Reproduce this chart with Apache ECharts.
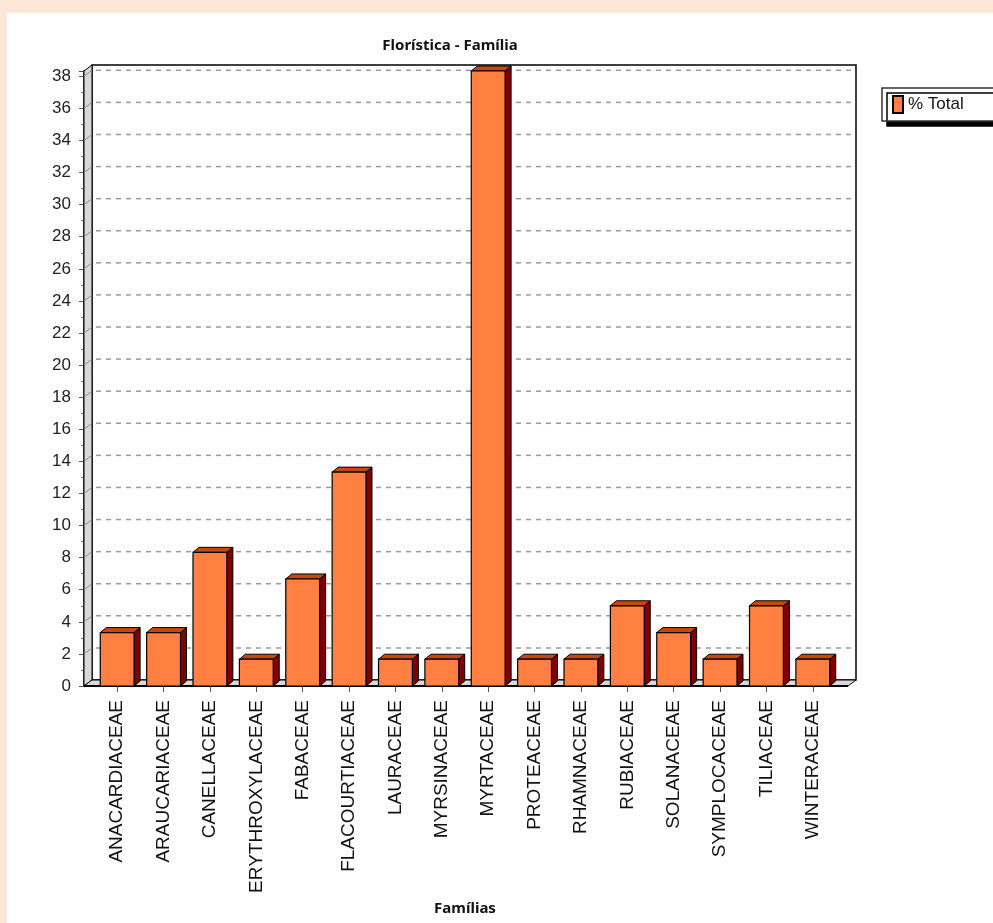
<!DOCTYPE html>
<html>
<head>
<meta charset="utf-8">
<script src="https://cdn.jsdelivr.net/npm/echarts@6/dist/echarts.min.js"></script>
<style>
  html, body { margin: 0; padding: 0; background: #fde7d8; }
  #page { position: absolute; left: 7px; top: 13px; right: 0; bottom: 0; background: #fff; }
  #chart { position: absolute; left: -7px; top: -13px; width: 993px; height: 923px; }
</style>
</head>
<body>
<div id="page"><div id="chart"></div></div>
<script>
const families = ['ANACARDIACEAE', 'ARAUCARIACEAE', 'CANELLACEAE', 'ERYTHROXYLACEAE', 'FABACEAE',
  'FLACOURTIACEAE', 'LAURACEAE', 'MYRSINACEAE', 'MYRTACEAE', 'PROTEACEAE', 'RHAMNACEAE',
  'RUBIACEAE', 'SOLANACEAE', 'SYMPLOCACEAE', 'TILIACEAE', 'WINTERACEAE'];
const pctTotal = [3.33, 3.33, 8.33, 1.67, 6.67, 13.33, 1.67, 1.67, 38.33, 1.67, 1.67, 5, 3.33, 1.67, 5, 1.67];
const yTicks = [0, 2, 4, 6, 8, 10, 12, 14, 16, 18, 20, 22, 24, 26, 28, 30, 32, 34, 36, 38];

const chart = echarts.init(document.getElementById('chart'), null, { renderer: 'canvas' });

// walls depth and bar depth (3d look)
const WX = 8, WY = 6, BX = 6, BY = 5;

function renderFrame(params, api) {
  const cs = params.coordSys;
  const x0 = cs.x - 10, x1 = cs.x + cs.width + 12;
  const yb = cs.y + cs.height, yt = cs.y;
  const kids = [];
  // back wall
  kids.push({ type: 'rect', shape: { x: x0 + WX, y: yt - WY, width: x1 - x0, height: yb - yt },
    style: { fill: '#fff', stroke: '#000', lineWidth: 1.5 } });
  // left wall
  kids.push({ type: 'polygon', shape: { points: [[x0, yb], [x0 + WX, yb - WY], [x0 + WX, yt - WY], [x0, yt]] },
    style: { fill: '#d8d8d8', stroke: '#000', lineWidth: 1 } });
  // floor
  kids.push({ type: 'polygon', shape: { points: [[x0, yb], [x0 + WX, yb - WY], [x1 + WX, yb - WY], [x1, yb]] },
    style: { fill: '#d8d8d8', stroke: '#000', lineWidth: 1 } });
  yTicks.forEach(function (v) {
    if (v === 0) return;
    const y = api.coord([0, v])[1];
    kids.push({ type: 'line', shape: { x1: x0, y1: y, x2: x0 + WX, y2: y - WY },
      style: { stroke: '#8a8a8a', lineWidth: 1 } });
    kids.push({ type: 'line', shape: { x1: x0 + WX + 4, y1: y - WY, x2: x1 + WX - 2, y2: y - WY },
      style: { stroke: '#9a9a9a', lineWidth: 1.5, lineDash: [5, 5] } });
  });
  // front base line
  kids.push({ type: 'line', shape: { x1: x0, y1: yb, x2: x1, y2: yb }, style: { stroke: '#000', lineWidth: 2 } });
  return { type: 'group', children: kids };
}

function renderBar(params, api) {
  const c = api.coord([api.value(0), api.value(1)]);
  const base = api.coord([api.value(0), 0]);
  const w = api.size([1, 0])[0] * 0.73;
  const xl = c[0] - w / 2, xr = c[0] + w / 2, yt = c[1], yb = base[1];
  return {
    type: 'group',
    children: [
      { type: 'polygon', shape: { points: [[xr, yt], [xr + BX, yt - BY], [xr + BX, yb - BY], [xr, yb]] },
        style: { fill: '#800000', stroke: '#000', lineWidth: 1 } },
      { type: 'polygon', shape: { points: [[xl, yt], [xl + BX, yt - BY], [xr + BX, yt - BY], [xr, yt]] },
        style: { fill: '#c8480a', stroke: '#000', lineWidth: 1 } },
      { type: 'rect', shape: { x: xl, y: yt, width: w, height: yb - yt },
        style: { fill: '#ff8040', stroke: '#000', lineWidth: 1.2 } }
    ]
  };
}

option = {
  animation: false,
  backgroundColor: 'transparent',
  title: {
    text: 'Florística - Família',
    left: 445, top: 33, textAlign: 'center',
    textStyle: { fontFamily: 'Noto Sans', fontWeight: 'bold', fontSize: 15, color: '#111' }
  },
  legend: {
    data: ['% Total'],
    left: 882, top: 88,
    orient: 'vertical',
    icon: 'rect',
    itemWidth: 10, itemHeight: 17, itemGap: 4,
    padding: [7, 40, 7, 10],
    backgroundColor: '#fff',
    borderColor: '#333', borderWidth: 1.5,
    shadowColor: '#000', shadowBlur: 0, shadowOffsetX: 5, shadowOffsetY: 5,
    textStyle: { fontFamily: 'Liberation Sans', fontSize: 17, color: '#111' }
  },
  grid: { left: 94, right: 157, top: 71, bottom: 237, containLabel: false },
  xAxis: {
    type: 'category',
    data: families,
    name: 'Famílias',
    nameLocation: 'middle',
    nameGap: 215,
    nameTextStyle: { fontFamily: 'Noto Sans', fontWeight: 'bold', fontSize: 15, color: '#111' },
    axisLine: { show: false },
    axisTick: { show: true, alignWithLabel: true, length: 6, lineStyle: { color: '#555' } },
    axisLabel: { rotate: 90, interval: 0, margin: 14, fontFamily: 'Liberation Sans', fontSize: 19, color: '#111' },
    splitLine: { show: false }
  },
  yAxis: {
    type: 'value',
    min: 0,
    max: 'dataMax',
    interval: 2,
    offset: 10,
    axisLine: { show: true, lineStyle: { color: '#000', width: 2.5 } },
    axisTick: { show: true, length: 5, lineStyle: { color: '#555' } },
    minorTick: { show: true, splitNumber: 2, length: 3, lineStyle: { color: '#777' } },
    axisLabel: { showMaxLabel: false, margin: 13, fontFamily: 'Liberation Sans', fontSize: 17, color: '#222' },
    splitLine: { show: false }
  },
  series: [
    {
      name: 'frame',
      type: 'custom',
      z: 1,
      silent: true,
      renderItem: renderFrame,
      data: [[0, 0]]
    },
    {
      name: '% Total',
      type: 'custom',
      z: 2,
      renderItem: renderBar,
      itemStyle: { color: '#ff8040', borderColor: '#000', borderWidth: 1 },
      encode: { x: 0, y: 1 },
      data: families.map(function (f, i) { return [i, pctTotal[i]]; })
    }
  ]
};

chart.setOption(option);
window.addEventListener('resize', chart.resize);
</script>
</body>
</html>
